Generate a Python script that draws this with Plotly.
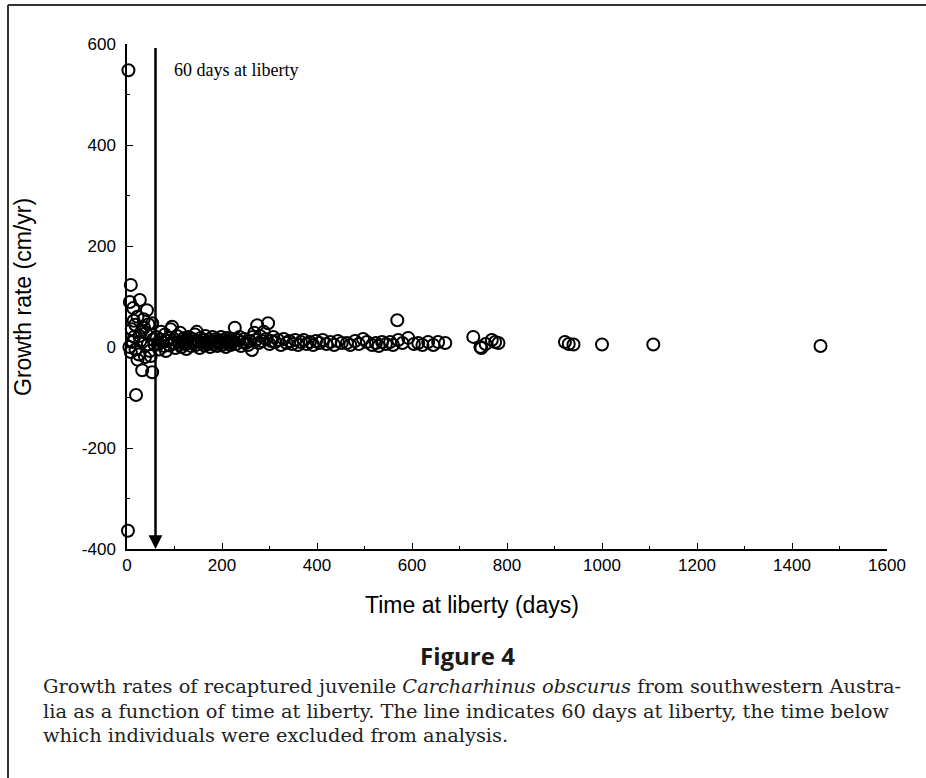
import plotly.graph_objects as go

# Time at liberty (days) and growth rate (cm/yr) of recaptured juveniles
days = [
    3, 2, 8, 6, 27, 13, 42, 17, 10, 22, 35, 30, 45, 53, 50, 5, 12, 18, 25, 38,
    48, 58, 32, 53, 19, 15, 28, 40, 55, 8, 22, 44, 36, 14, 26, 50,
    62, 65, 68, 70, 72, 75, 78, 80, 82, 85, 88, 90, 92, 95, 98, 100, 102, 105,
    108, 110, 112, 115, 118, 120, 122, 125, 128, 130, 133, 135, 138, 140, 143,
    145, 147, 150, 153, 155, 158, 160, 163, 165, 168, 170, 173, 175, 178, 180,
    183, 185, 188, 190, 193, 195, 198, 200, 203, 205, 208, 210, 213, 215, 218,
    220, 223, 227, 230, 233, 237, 240, 243, 247, 250, 255, 258, 263, 265, 268,
    271, 274, 277, 280, 284, 288, 292, 297, 300, 304, 308, 312, 318, 324, 330,
    336, 342, 348, 354, 360, 366, 372, 378, 385, 392, 398, 405, 412, 420, 428,
    436, 444, 452, 463, 470, 480, 488, 497, 505, 516, 524, 530, 537, 545, 554,
    560, 569, 571, 580, 592, 604, 613, 622, 634, 645, 655, 670, 729, 744, 746,
    755, 768, 775, 782, 922, 930, 940, 1000, 1108, 1460,
]
growth = [
    548, -364, 123, 89, 93, 77, 73, 44, 35, 60, 55, 30, 45, 47, 25, 0, 10, -5,
    -15, -20, -8, 5, -46, -50, -95, 20, 12, 28, 15, -10, -25, 5, 38, 52, 22, -18,
    20, 5, -5, 15, 30, 10, 2, 25, -8, 12, 18, 3, 35, 40, 8, 15, -2, 22,
    10, 5, 28, 0, 12, 18, 6, -4, 14, 20, 8, 2, 16, 10, 25,
    4, 30, 12, -2, 18, 8, 14, 3, 22, 10, 6, 15, 0, 12, 20,
    5, 10, 16, 2, 12, 8, 20, 4, 14, 10, 0, 18, 8, 12, 4,
    16, 10, 38, 6, 14, 20, 2, 10, 16, 8, 4, 12, -6, 20, 28,
    14, 43, 8, 22, 12, 30, 16, 47, 6, 12, 20, 10, 14, 4, 16,
    8, 12, 6, 14, 4, 10, 14, 6, 10, 4, 12, 8, 14, 6, 10,
    4, 12, 8, 8, 4, 12, 6, 16, 10, 4, 8, 2, 10, 6, 10,
    4, 53, 14, 8, 18, 6, 8, 4, 10, 4, 10, 8, 20, 0, -2,
    6, 14, 10, 8, 10, 6, 5, 5, 5, 2,
]

x_ticks = [0, 200, 400, 600, 800, 1000, 1200, 1400, 1600]
y_ticks = [-400, -200, 0, 200, 400, 600]
y_tick_text = ["-400", "-200", "0", "200", "400", "600"]
cutoff_days = 60

caption_lines = [
    "Growth rates of recaptured juvenile <i>Carcharhinus obscurus</i> from southwestern Austra-",
    "lia as a function of time at liberty. The line indicates 60 days at liberty, the time below",
    "which individuals were excluded from analysis.",
]

W, H = 926, 778
L, R, T, B = 127, 39, 44, 229
PW, PH = W - L - R, H - T - B


def px(x):
    return (x - L) / PW


def py(y):
    return (H - B - y) / PH


fig = go.Figure()
fig.add_trace(go.Scatter(
    x=days, y=growth, mode="markers", cliponaxis=False,
    marker=dict(symbol="circle-open", size=12, color="black",
                line=dict(width=2, color="black")),
    showlegend=False,
))

axis_common = dict(
    showgrid=False, zeroline=False, showline=True, linecolor="black",
    linewidth=1.5, ticks="inside", ticklen=6, tickwidth=1.2, tickcolor="black",
    tickfont=dict(family="Liberation Sans, Arial", size=17, color="black"),
    minor=dict(ticks="inside", ticklen=3, tickwidth=1, tickcolor="black", dtick=100),
)
fig.update_xaxes(range=[0, 1600], tickvals=x_ticks, ticklabelstandoff=0,
                 **axis_common)
fig.update_yaxes(range=[-400, 600], tickvals=y_ticks, ticktext=y_tick_text,
                 ticklabelstandoff=6, **axis_common)


def label(x, y, text, font, **kw):
    fig.add_annotation(x=px(x), y=py(y), xref="paper", yref="paper",
                       showarrow=False, text=text, font=font,
                       xanchor=kw.pop("xanchor", "center"),
                       yanchor="middle", **kw)


# Vertical arrow marking 60 days at liberty
fig.add_annotation(
    x=cutoff_days, y=-400, ax=cutoff_days, ay=595, xref="x", yref="y",
    axref="x", ayref="y", showarrow=True, arrowhead=2, arrowsize=1.1,
    arrowwidth=2.5, arrowcolor="black", text="",
)
label(172, 70, "60 days at liberty",
      dict(family="Liberation Serif, Times New Roman", size=18, color="black"),
      xanchor="left")

# Axis titles
sans = dict(family="Liberation Sans, Arial", size=23, color="black")
label(23, 297, "Growth rate (cm/yr)", sans, textangle=-90)
label(472, 605, "Time at liberty (days)", sans)

# Figure label and caption
label(467, 655, "<b>Figure 4</b>",
      dict(family="Open Sans", size=24, color="#1a1a1a"))
for i, line in enumerate(caption_lines):
    label(41, 686 + 25 * i, line,
          dict(family="DejaVu Serif", size=19.4, color="#222"),
          xanchor="left")

# Frame around the figure panel
frame = dict(color="#333", width=2)
fig.add_shape(type="line", xref="paper", yref="paper",
              x0=px(8), x1=px(8), y0=py(H + 5), y1=py(5), line=frame)
fig.add_shape(type="line", xref="paper", yref="paper",
              x0=px(8), x1=px(W + 5), y0=py(5), y1=py(5), line=frame)

fig.update_layout(
    width=W, height=H, margin=dict(l=L, r=R, t=T, b=B),
    plot_bgcolor="white", paper_bgcolor="white",
)
fig.write_html("out.html")
